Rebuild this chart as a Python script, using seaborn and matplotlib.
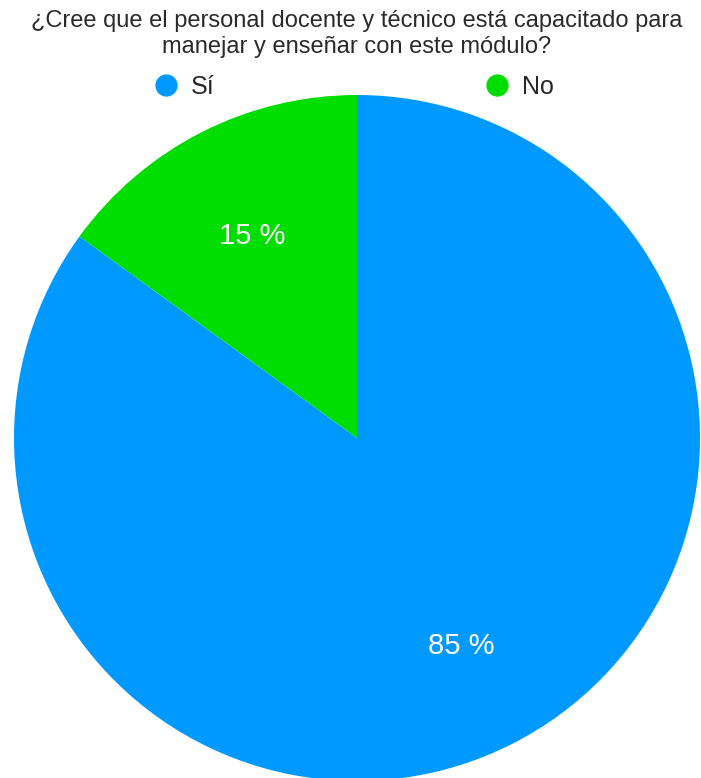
import matplotlib
matplotlib.use("Agg")
import matplotlib.pyplot as plt
from matplotlib.lines import Line2D
import seaborn as sns

sns.set_theme(style="white")
plt.rcParams['font.family'] = ['Liberation Sans', 'DejaVu Sans']

title = "¿Cree que el personal docente y técnico está capacitado para\nmanejar y enseñar con este módulo?"
labels = ["Sí", "No"]
values = [85, 15]
colors = ["#0099FF", "#00DD00"]

W, H = 701, 778
fig = plt.figure(figsize=(W / 100, H / 100), dpi=100)
ax = fig.add_axes([0, 0, 1, 1])

wedges, texts, autotexts = ax.pie(
    values, colors=colors, startangle=90, counterclock=False,
    center=(357, H - 438), radius=343,
    autopct=lambda p: f"{p:.0f} %", pctdistance=0.67,
    textprops=dict(color="white", fontsize=21),
    wedgeprops=dict(linewidth=0), frame=True,
)
for t in autotexts:
    t.set_va("center_baseline")
ax.set_xlim(0, W)
ax.set_ylim(0, H)
ax.axis("off")

fig.text(357 / W, 1 - 34 / H, title, ha="center", va="center",
         fontsize=17, color="#2a2a2a", linespacing=1.22)

handles = [Line2D([], [], marker="o", linestyle="", markersize=15,
                  markerfacecolor=c, markeredgecolor=c) for c in colors]
fig.legend(handles, labels, loc="center", bbox_to_anchor=(354 / W, 1 - 87 / H),
           ncol=2, frameon=False, fontsize=18, handlelength=1.0,
           handletextpad=0.5, columnspacing=10.8, borderpad=0)

fig.savefig("out.png", dpi=100)
